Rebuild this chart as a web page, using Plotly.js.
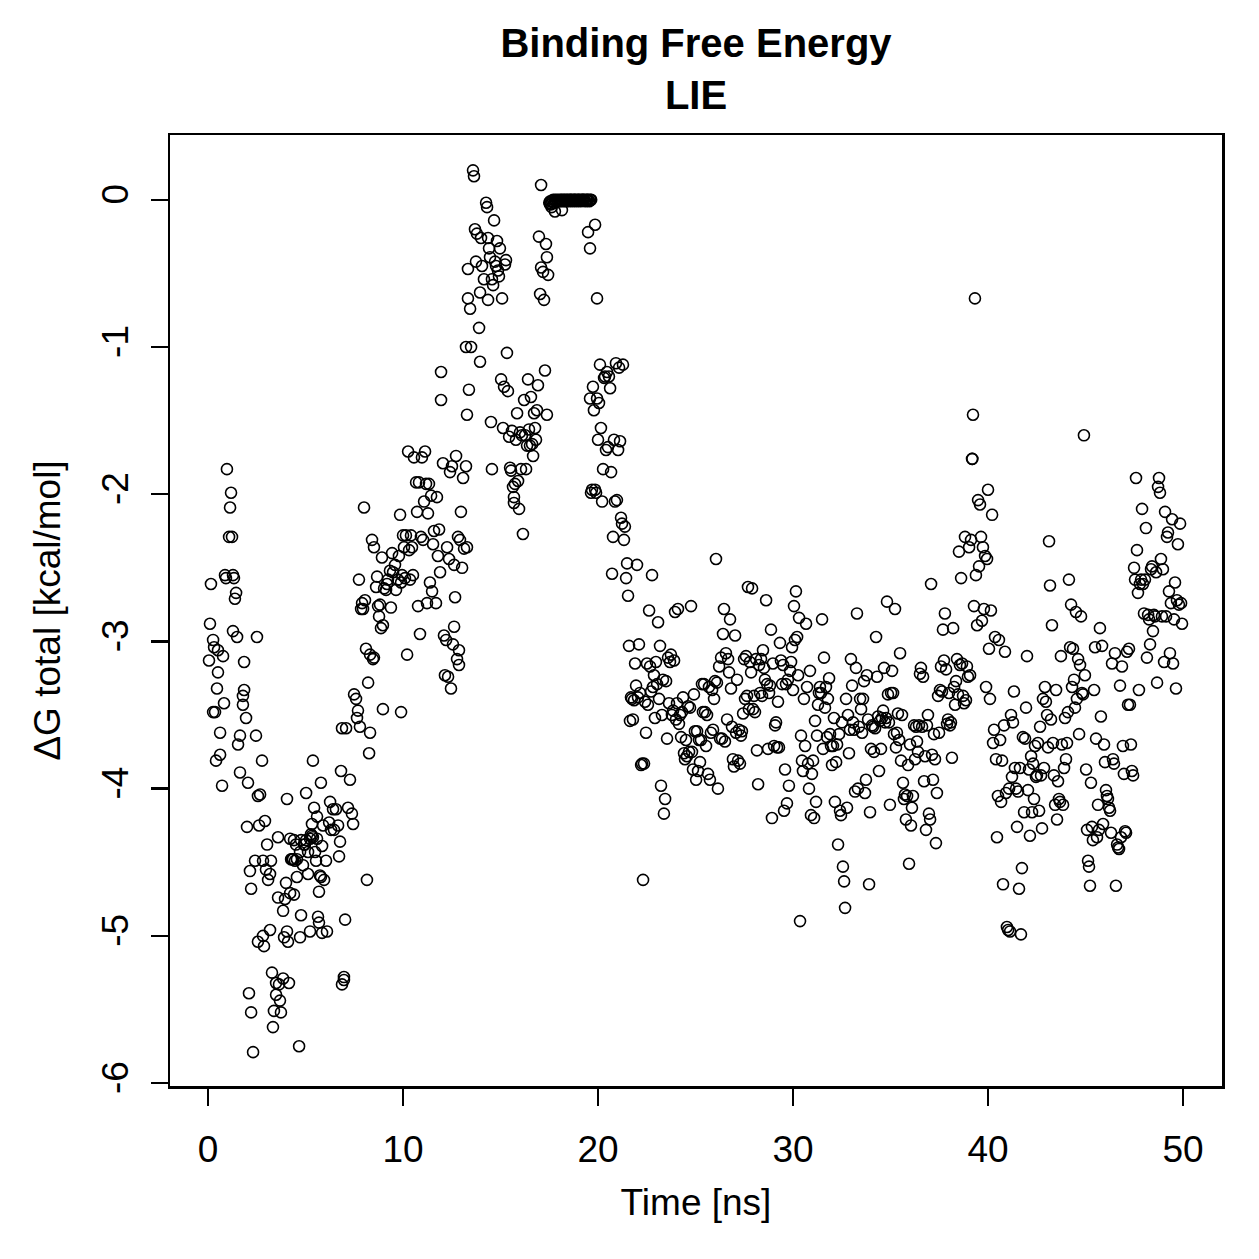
<!DOCTYPE html>
<html>
<head>
<meta charset="utf-8">
<script src="https://cdn.plot.ly/plotly-3.0.1.min.js"></script>
<style>
  html, body { margin: 0; padding: 0; background: #ffffff; }
  #chart { width: 1259px; height: 1259px; }
</style>
</head>
<body>
<div id="chart"></div>
<script>
// LIE binding free energy along the trajectory (time in ns, dG in kcal/mol)

// 0 - 10 ns
const timeA = [
  0.05,0.10,0.15,0.26,0.26,0.31,0.36,0.41,0.46,0.51,
  0.51,0.62,0.62,0.72,0.77,0.82,0.87,0.92,0.97,1.08,
  1.13,1.18,1.23,1.28,1.28,1.33,1.38,1.44,1.49,1.54,
  1.64,1.64,1.79,1.79,1.85,1.85,1.95,2.00,2.05,2.10,
  2.15,2.21,2.21,2.31,2.41,2.46,2.51,2.56,2.56,2.62,
  2.67,2.77,2.82,2.82,2.87,2.92,2.97,3.03,3.08,3.18,
  3.18,3.23,3.28,3.33,3.38,3.49,3.49,3.59,3.59,3.64,
  3.69,3.74,3.85,3.85,3.90,3.95,4.00,4.05,4.05,4.10,
  4.15,4.21,4.21,4.26,4.31,4.36,4.41,4.41,4.46,4.51,
  4.56,4.56,4.67,4.72,4.72,4.77,4.77,4.87,4.92,4.97,
  5.03,5.03,5.13,5.13,5.23,5.23,5.28,5.33,5.33,5.38,
  5.38,5.44,5.49,5.54,5.59,5.59,5.64,5.69,5.69,5.74,
  5.79,5.79,5.85,5.85,5.90,5.95,6.05,6.10,6.21,6.26,
  6.31,6.41,6.46,6.56,6.67,6.72,6.77,6.82,6.87,6.87,
  6.97,6.97,7.03,7.08,7.18,7.28,7.38,7.44,7.49,7.59,
  7.64,7.69,7.74,7.79,7.85,7.90,7.95,8.00,8.05,8.10,
  8.15,8.21,8.26,8.31,8.31,8.41,8.46,8.51,8.51,8.62,
  8.67,8.72,8.77,8.82,8.87,8.92,8.97,8.97,9.03,9.13,
  9.18,9.23,9.33,9.38,9.44,9.49,9.59,9.64,9.74,9.79,
  9.85,9.90,9.90,9.95
];
const dgA = [
  -3.13,-2.88,-2.61,-2.99,-3.48,-3.04,-3.48,-3.81,-3.32,-3.06,
  -3.21,-3.77,-3.62,-3.98,-3.10,-3.42,-2.55,-2.57,-1.83,-2.29,
  -2.09,-1.99,-2.29,-2.55,-2.93,-2.57,-2.71,-2.67,-2.97,-3.70,
  -3.64,-3.89,-3.37,-3.43,-3.33,-3.14,-3.52,-4.26,-3.96,-5.39,
  -4.56,-5.52,-4.68,-5.79,-4.49,-3.64,-2.97,-4.05,-5.04,-4.25,
  -4.04,-3.81,-5.00,-4.49,-5.07,-4.22,-4.55,-4.38,-4.62,-4.58,
  -4.96,-4.49,-5.25,-5.62,-5.51,-5.32,-5.40,-4.74,-4.33,-5.33,
  -5.44,-5.52,-5.29,-4.83,-5.01,-4.75,-4.64,-4.07,-4.97,-5.04,
  -5.32,-4.34,-4.71,-4.48,-4.48,-4.48,-4.72,-4.35,-4.49,-4.38,
  -4.48,-4.60,-5.75,-5.01,-4.43,-4.86,-4.35,-4.52,-4.38,-4.38,
  -4.03,-4.35,-4.43,-4.58,-4.34,-4.97,-4.31,-4.24,-4.32,-3.81,
  -4.33,-4.13,-4.43,-4.49,-4.19,-4.34,-4.87,-4.91,-4.70,-4.59,
  -3.96,-4.60,-4.98,-4.39,-4.25,-4.62,-4.49,-4.97,-4.23,-4.09,
  -4.28,-4.14,-4.28,-4.14,-4.25,-4.46,-4.36,-3.88,-5.33,-3.59,
  -5.28,-5.30,-4.89,-3.59,-4.13,-3.94,-4.17,-4.24,-3.36,-3.39,
  -3.52,-3.47,-2.58,-3.58,-2.78,-2.74,-2.78,-2.09,-2.72,-3.05,
  -4.62,-3.28,-3.76,-3.09,-3.62,-2.31,-3.12,-3.11,-2.36,-2.63,
  -2.56,-2.76,-2.83,-2.75,-2.91,-2.43,-3.46,-2.89,-2.64,-2.65,
  -2.61,-2.58,-2.52,-2.77,-2.40,-2.53,-2.48,-2.65,-2.58,-2.42,
  -2.14,-3.48,-2.60,-2.55
];

// 10 - 20 ns
const timeB = [
  10.00,10.05,10.10,10.15,10.21,10.26,10.31,10.36,10.41,10.46,
  10.51,10.56,10.67,10.72,10.77,10.82,10.87,10.92,10.97,11.03,
  11.08,11.13,11.18,11.23,11.28,11.33,11.38,11.44,11.49,11.54,
  11.59,11.69,11.74,11.79,11.85,11.90,11.95,11.95,12.05,12.10,
  12.15,12.21,12.26,12.31,12.36,12.41,12.46,12.51,12.56,12.62,
  12.62,12.67,12.72,12.77,12.82,12.87,12.87,12.92,12.97,13.03,
  13.08,13.13,13.23,13.28,13.23,13.28,13.33,13.33,13.38,13.44,
  13.49,13.59,13.64,13.69,13.74,13.79,13.90,13.95,13.95,14.00,
  14.05,14.15,14.26,14.31,14.36,14.41,14.36,14.46,14.51,14.56,
  14.56,14.62,14.67,14.72,14.77,14.82,14.87,14.92,14.97,15.03,
  15.08,15.13,15.18,15.23,15.28,15.33,15.38,15.44,15.49,15.54,
  15.59,15.64,15.69,15.69,15.74,15.79,15.85,15.90,15.95,16.00,
  16.05,16.10,16.15,16.21,16.26,16.31,16.36,16.41,16.46,16.51,
  16.56,16.62,16.67,16.72,16.77,16.82,16.87,16.92,16.97,17.03,
  17.08,17.08,17.18,17.23,17.28,17.33,17.38,17.38,17.44,19.49,
  19.59,19.59,19.64,19.69,19.74,19.79,19.85,19.85,19.90,19.95,
  19.95
];
const dgB = [
  -2.28,-2.36,-2.57,-2.28,-3.09,-1.71,-2.38,-2.58,-2.28,-2.36,
  -2.55,-1.75,-1.92,-2.12,-2.76,-1.92,-2.95,-2.29,-1.75,-2.31,
  -2.05,-1.71,-1.93,-2.74,-2.13,-1.93,-2.60,-2.01,-2.66,-2.34,
  -2.25,-2.74,-2.02,-2.42,-2.24,-2.53,-1.17,-1.36,-1.79,-2.96,
  -3.23,-2.99,-2.36,-3.24,-2.44,-1.85,-3.32,-1.81,-3.02,-2.90,
  -2.48,-2.70,-1.74,-3.12,-2.29,-3.16,-3.06,-2.31,-2.12,-2.50,
  -1.89,-2.37,-1.81,-2.36,-1.00,-1.46,-0.67,-0.47,-1.29,-0.74,
  -1.00,0.20,0.16,-0.20,-0.42,-0.23,-0.87,-0.63,-1.10,-0.26,
  -0.45,-0.54,-0.02,-0.05,-0.26,-0.33,-0.68,-0.39,-1.51,-1.83,
  -0.54,-0.58,-0.14,-0.42,-0.45,-0.28,-0.48,-0.52,-0.33,-1.22,
  -0.67,-1.55,-1.27,-0.44,-0.41,-1.04,-1.30,-1.61,-1.82,-1.84,
  -1.57,-1.95,-2.02,-2.06,-1.93,-1.63,-1.45,-1.91,-2.10,-1.58,
  -1.83,-1.60,-2.27,-1.36,-1.60,-1.83,-1.67,-1.22,-1.56,-1.67,
  -1.34,-1.66,-1.74,-1.45,-1.55,-1.63,-1.43,-1.26,-0.25,-0.64,
  0.10,-0.46,-0.49,-0.68,-1.16,-0.30,-0.39,-1.46,-0.51,-0.22,
  -0.33,-1.35,-1.99,-1.97,-1.27,-1.43,-1.97,-0.17,-1.99,-1.35,
  -0.67
];

// 17.5 - 19.7 ns: the stretch where the ligand sits at ~0 kcal/mol
const timePlateau = [
  17.50,17.55,17.60,17.65,17.70,17.75,17.80,17.85,17.90,17.95,
  18.00,18.05,18.10,18.15,18.20,18.25,18.30,18.35,18.40,18.45,
  18.50,18.55,18.60,18.65,18.70,18.75,18.80,18.85,18.90,18.95,
  19.00,19.05,19.10,19.15,19.20,19.25,19.30,19.35,19.40,19.45,
  19.50,19.55,19.60,19.65,17.54,17.62,17.79,18.15
];
const dgPlateau = [
  -0.02,-0.01,-0.03,-0.01,0.00,-0.02,0.00,-0.01,0.00,-0.01,
  0.00,-0.01,0.00,0.00,-0.01,0.00,0.00,-0.01,0.00,0.00,
  -0.01,0.00,0.00,0.00,-0.01,0.00,0.00,0.00,-0.01,0.00,
  0.00,0.00,-0.01,0.00,0.00,0.00,0.00,-0.01,0.00,0.00,
  0.00,-0.01,0.00,0.00,-0.03,-0.05,-0.08,-0.07
];

// 20 - 30 ns
const timeC = [
  20.00,20.05,20.10,20.15,20.21,20.26,20.31,20.36,20.41,20.46,
  20.51,20.56,20.62,20.67,20.72,20.77,20.82,20.87,20.92,20.97,
  21.03,21.08,21.13,21.18,21.23,21.28,21.33,21.38,21.44,21.49,
  21.54,21.59,21.64,21.69,21.74,21.79,21.85,21.90,21.95,22.00,
  22.05,22.10,22.15,22.21,22.26,22.31,22.36,22.41,22.46,22.51,
  22.56,22.62,22.67,22.72,22.77,22.82,22.87,22.92,22.97,23.03,
  23.08,23.13,23.18,23.23,23.28,23.33,23.38,23.44,23.49,23.54,
  23.59,23.64,23.69,23.74,23.79,23.85,23.90,23.95,24.00,24.05,
  24.10,24.15,24.21,24.26,24.31,24.36,24.41,24.46,24.51,24.56,
  24.62,24.67,24.72,24.77,24.82,24.87,24.92,24.97,25.03,25.08,
  25.13,25.18,25.23,25.28,25.33,25.38,25.44,25.49,25.54,25.59,
  25.64,25.69,25.74,25.79,25.85,25.90,25.95,26.00,26.05,26.10,
  26.15,26.21,26.26,26.31,26.36,26.41,26.46,26.51,26.56,26.62,
  26.67,26.72,26.77,26.82,26.87,26.92,26.97,27.03,27.08,27.13,
  27.18,27.23,27.28,27.33,27.38,27.44,27.49,27.54,27.59,27.64,
  27.69,27.74,27.79,27.85,27.90,27.95,28.00,28.05,28.10,28.15,
  28.21,28.26,28.31,28.36,28.41,28.46,28.51,28.56,28.62,28.67,
  28.72,28.77,28.82,28.87,28.92,28.97,29.03,29.08,29.13,29.18,
  29.23,29.28,29.33,29.38,29.44,29.49,29.54,29.59,29.64,29.69,
  29.74,29.79,29.85,29.90,29.95
];
const dgC = [
  -1.63,-1.38,-1.12,-1.55,-2.05,-1.83,-1.21,-1.20,-1.70,-1.17,
  -1.68,-1.20,-1.28,-1.85,-2.54,-2.29,-1.63,-2.05,-1.11,-2.04,
  -1.70,-1.14,-1.64,-2.16,-2.20,-1.12,-2.31,-2.22,-2.57,-2.47,
  -2.69,-3.03,-3.54,-3.38,-3.39,-3.53,-3.40,-3.15,-3.30,-2.48,
  -3.38,-3.02,-3.35,-3.84,-3.83,-4.62,-3.83,-3.41,-3.62,-3.15,
  -3.43,-2.79,-3.17,-3.34,-2.55,-3.31,-3.23,-3.52,-3.14,-3.29,
  -2.87,-3.39,-3.03,-3.98,-3.50,-3.26,-4.17,-4.07,-3.27,-3.66,
  -3.11,-3.42,-3.14,-3.09,-3.50,-3.47,-3.13,-2.80,-3.53,-3.42,
  -2.78,-3.56,-3.50,-3.65,-3.48,-3.38,-3.76,-3.80,-3.67,-3.78,
  -3.44,-3.75,-3.45,-2.76,-3.75,-3.87,-3.36,-3.61,-3.94,-3.61,
  -3.88,-3.67,-3.82,-3.67,-3.29,-3.48,-3.29,-3.48,-3.71,-3.50,
  -3.90,-3.31,-3.94,-3.62,-3.33,-3.60,-3.39,-3.27,-2.44,-3.28,
  -4.00,-3.17,-3.66,-3.11,-3.66,-2.95,-2.78,-3.68,-3.08,-3.53,
  -3.12,-3.21,-2.85,-3.32,-3.58,-3.80,-3.85,-2.96,-3.62,-3.26,
  -3.81,-3.60,-3.83,-3.64,-3.61,-3.49,-3.12,-3.39,-3.10,-3.37,
  -2.63,-3.46,-3.14,-3.21,-2.64,-3.46,-3.37,-3.48,-3.12,-3.74,
  -3.97,-3.16,-3.35,-3.12,-3.37,-3.06,-3.18,-3.26,-2.72,-3.29,
  -3.73,-3.35,-3.30,-2.92,-4.20,-3.15,-3.71,-3.57,-3.55,-3.72,
  -3.41,-3.72,-3.01,-3.13,-3.29,-3.16,-4.15,-3.87,-3.29,-4.10,
  -3.26,-3.98,-3.20,-3.14,-3.04
];

// 30 - 40 ns
const timeD = [
  30.00,30.05,30.10,30.15,30.21,30.26,30.31,30.36,30.41,30.46,
  30.51,30.56,30.62,30.67,30.72,30.77,30.82,30.87,30.92,30.97,
  31.03,31.08,31.13,31.18,31.23,31.28,31.33,31.38,31.44,31.49,
  31.54,31.59,31.64,31.69,31.74,31.79,31.85,31.90,31.95,32.00,
  32.05,32.10,32.15,32.21,32.26,32.31,32.36,32.41,32.46,32.51,
  32.56,32.62,32.67,32.72,32.77,32.82,32.87,32.92,32.97,33.03,
  33.08,33.13,33.18,33.23,33.28,33.33,33.38,33.44,33.49,33.54,
  33.59,33.64,33.69,33.74,33.79,33.85,33.90,33.95,34.00,34.05,
  34.10,34.15,34.21,34.26,34.31,34.36,34.41,34.46,34.51,34.56,
  34.62,34.67,34.72,34.77,34.82,34.87,34.92,34.97,35.03,35.08,
  35.13,35.18,35.23,35.28,35.33,35.38,35.44,35.49,35.54,35.59,
  35.64,35.69,35.74,35.79,35.85,35.90,35.95,36.00,36.05,36.10,
  36.15,36.21,36.26,36.31,36.36,36.41,36.46,36.51,36.56,36.62,
  36.67,36.72,36.77,36.82,36.87,36.92,36.97,37.03,37.08,37.13,
  37.18,37.23,37.28,37.33,37.38,37.44,37.49,37.54,37.59,37.64,
  37.69,37.74,37.79,37.85,37.90,37.95,38.00,38.05,38.10,38.15,
  38.21,38.26,38.31,38.36,38.41,38.46,38.51,38.56,38.62,38.67,
  38.72,38.77,38.82,38.87,38.92,38.97,39.03,39.08,39.13,39.18,
  39.23,39.28,39.33,39.38,39.44,39.49,39.54,39.59,39.64,39.69,
  39.74,39.79,39.85,39.90,39.95,39.20
];
const dgD = [
  -3.33,-2.76,-2.99,-2.66,-2.97,-3.23,-2.84,-4.90,-3.64,-3.81,
  -3.88,-3.39,-3.71,-2.88,-3.31,-3.83,-4.00,-3.20,-4.18,-3.90,
  -3.81,-4.20,-3.54,-4.09,-3.64,-3.43,-3.35,-3.31,-3.35,-2.85,
  -3.73,-3.11,-3.45,-3.31,-3.65,-3.39,-3.25,-3.63,-3.71,-3.84,
  -3.71,-3.52,-4.09,-3.82,-3.70,-4.38,-3.63,-4.15,-4.18,-3.55,
  -4.53,-4.63,-4.81,-3.39,-4.13,-3.50,-3.76,-3.60,-3.12,-3.30,
  -3.55,-3.60,-4.02,-3.18,-2.81,-4.00,-3.58,-3.39,-3.46,-3.62,
  -3.39,-3.27,-4.03,-3.94,-3.23,-3.53,-4.65,-4.16,-3.73,-3.57,
  -3.58,-3.75,-3.59,-2.97,-3.24,-3.51,-3.88,-3.54,-3.73,-3.52,
  -3.47,-3.18,-3.55,-3.52,-2.73,-3.36,-3.55,-4.11,-3.35,-3.20,
  -3.35,-3.63,-2.78,-3.72,-3.62,-3.49,-3.67,-3.08,-3.81,-3.50,
  -3.96,-4.07,-4.04,-4.21,-4.05,-3.84,-4.51,-3.70,-4.25,-4.13,
  -4.05,-3.57,-3.80,-3.58,-3.68,-3.75,-3.57,-3.22,-3.18,-3.58,
  -3.24,-3.95,-3.78,-4.28,-3.57,-3.50,-4.17,-4.21,-2.61,-3.77,
  -3.94,-3.63,-3.80,-4.37,-4.03,-3.37,-3.62,-3.33,-3.17,-3.34,
  -2.92,-3.13,-2.81,-3.19,-3.56,-3.53,-3.35,-3.57,-3.55,-3.79,
  -2.91,-3.31,-3.43,-3.27,-3.12,-3.36,-2.39,-3.16,-2.57,-3.15,
  -3.37,-3.42,-2.29,-3.40,-3.17,-3.24,-2.36,-3.23,-2.31,-1.76,
  -1.46,-2.76,-0.67,-2.55,-2.89,-2.04,-2.49,-2.07,-2.29,-2.86,
  -2.36,-2.78,-2.42,-3.31,-2.44,-1.76
];

// 40 - 50 ns
const timeE = [
  40.00,40.05,40.10,40.15,40.21,40.26,40.31,40.36,40.41,40.46,
  40.51,40.56,40.62,40.67,40.72,40.77,40.82,40.87,40.92,40.97,
  41.03,41.08,41.13,41.18,41.23,41.28,41.33,41.38,41.44,41.49,
  41.54,41.59,41.64,41.69,41.74,41.79,41.85,41.90,41.95,42.00,
  42.05,42.10,42.15,42.21,42.26,42.31,42.36,42.41,42.46,42.51,
  42.56,42.62,42.67,42.72,42.77,42.82,42.87,42.92,42.97,43.03,
  43.08,43.13,43.18,43.23,43.28,43.33,43.38,43.44,43.49,43.54,
  43.59,43.64,43.69,43.74,43.79,43.85,43.90,43.95,44.00,44.05,
  44.10,44.15,44.21,44.26,44.31,44.36,44.41,44.46,44.51,44.56,
  44.62,44.67,44.72,44.77,44.82,44.87,44.92,44.97,45.03,45.08,
  45.13,45.18,45.23,45.28,45.33,45.38,45.44,45.49,45.54,45.59,
  45.64,45.69,45.74,45.79,45.85,45.90,45.95,46.00,46.05,46.10,
  46.15,46.21,46.26,46.31,46.36,46.41,46.46,46.51,46.56,46.62,
  46.67,46.72,46.77,46.82,46.87,46.92,46.97,47.03,47.08,47.13,
  47.18,47.23,47.28,47.33,47.38,47.44,47.49,47.54,47.59,47.64,
  47.69,47.74,47.79,47.85,47.90,47.95,48.00,48.05,48.10,48.15,
  48.21,48.26,48.31,48.36,48.41,48.46,48.51,48.56,48.62,48.67,
  48.72,48.77,48.82,48.87,48.92,48.97,49.03,49.08,49.13,49.18,
  49.23,49.28,49.33,49.38,49.44,49.49,49.54,49.59,49.64,49.69,
  49.74,49.79,49.85,49.90,49.95
];
const dgE = [
  -1.97,-3.05,-3.39,-2.79,-2.14,-3.69,-3.60,-2.97,-3.80,-4.33,
  -4.05,-2.99,-3.67,-4.09,-3.81,-4.65,-3.57,-3.07,-4.03,-4.94,
  -4.96,-4.00,-4.97,-3.50,-3.92,-3.55,-3.34,-3.86,-4.00,-4.26,
  -4.02,-4.68,-3.86,-4.99,-4.54,-3.65,-4.16,-3.66,-3.45,-3.10,
  -4.01,-3.87,-4.32,-3.78,-4.16,-3.83,-4.07,-3.71,-3.92,-3.91,
  -3.69,-4.15,-3.58,-3.91,-4.27,-3.39,-3.86,-3.31,-3.41,-3.50,
  -3.72,-2.32,-2.62,-3.53,-2.89,-3.69,-3.91,-4.11,-3.33,-4.21,
  -3.95,-4.07,-4.09,-3.10,-3.70,-4.11,-3.86,-3.52,-3.80,-3.69,
  -3.48,-2.58,-3.04,-2.75,-3.31,-3.05,-3.26,-3.45,-2.80,-3.39,
  -3.12,-3.63,-3.16,-2.83,-3.35,-3.36,-1.60,-3.23,-3.87,-4.28,
  -4.49,-4.53,-4.66,-3.96,-4.26,-4.35,-3.33,-3.04,-3.66,-4.33,
  -4.11,-4.28,-2.91,-3.51,-3.03,-4.24,-3.70,-3.82,-4.01,-4.05,
  -4.07,-4.13,-4.15,-4.30,-3.15,-3.80,-3.83,-3.08,-4.66,-4.38,
  -4.40,-4.41,-3.30,-4.33,-3.17,-3.71,-3.90,-4.29,-4.30,-3.07,
  -3.43,-3.05,-3.43,-3.70,-3.88,-3.91,-2.50,-2.58,-1.89,-2.38,
  -2.67,-3.33,-2.61,-2.58,-2.10,-2.61,-2.81,-2.58,-2.23,-3.11,
  -2.82,-2.85,-3.02,-2.51,-2.49,-2.93,-2.82,-2.83,-2.53,-3.28,
  -1.95,-1.89,-1.99,-2.44,-2.83,-2.51,-3.14,-2.12,-2.83,-2.29,
  -2.26,-2.66,-3.08,-2.74,-2.17,-3.15,-2.85,-2.60,-3.32,-2.72,
  -2.34,-2.75,-2.20,-2.74,-2.88
];

const xTicks = [0, 10, 20, 30, 40, 50];
const yTicks = [0, -1, -2, -3, -4, -5, -6];

const timeAll = [].concat(timeA, timeB, timePlateau, timeC, timeD, timeE);
const dgAll = [].concat(dgA, dgB, dgPlateau, dgC, dgD, dgE);

const FONT = '"Liberation Sans", Arial, Helvetica, sans-serif';

const trace = {
  type: 'scatter',
  mode: 'markers',
  x: timeAll,
  y: dgAll,
  marker: {
    symbol: 'circle-open',
    size: 11,
    color: '#000000',
    line: { color: '#000000', width: 1.6 }
  },
  hoverinfo: 'x+y'
};

const axisCommon = {
  showgrid: false,
  zeroline: false,
  showline: true,
  mirror: true,
  linecolor: '#000000',
  linewidth: 2.5,
  ticks: 'outside',
  ticklen: 17,
  tickwidth: 2.5,
  tickcolor: '#000000',
  tickfont: { family: FONT, size: 37, color: '#000000' },
  tickmode: 'array'
};

const layout = {
  width: 1259,
  height: 1259,
  paper_bgcolor: '#ffffff',
  plot_bgcolor: '#ffffff',
  showlegend: false,
  margin: { l: 170, r: 37, t: 135, b: 173, pad: 0 },
  title: {
    text: '<b>Binding Free Energy</b><br><b>LIE</b>',
    font: { family: FONT, size: 40, color: '#000000' },
    x: 0.5,
    xref: 'paper',
    xanchor: 'center',
    y: 1 - 57 / 1259,
    yref: 'container',
    yanchor: 'top'
  },
  xaxis: Object.assign({}, axisCommon, {
    range: [-1.95, 52.0],
    tickvals: xTicks,
    ticktext: xTicks.map(String),
    ticklabelstandoff: 12,
    title: {
      text: 'Time [ns]',
      font: { family: FONT, size: 37, color: '#000000' },
      standoff: 20
    }
  }),
  yaxis: Object.assign({}, axisCommon, {
    range: [-6.02, 0.44],
    tickvals: yTicks,
    ticktext: yTicks.map(String),
    tickangle: -90,
    ticklabelstandoff: 8,
    title: {
      text: '\u0394G total [kcal/mol]',
      font: { family: FONT, size: 37, color: '#000000' },
      standoff: 23
    }
  })
};

Plotly.newPlot('chart', [trace], layout, { staticPlot: true, displayModeBar: false });
</script>
</body>
</html>
